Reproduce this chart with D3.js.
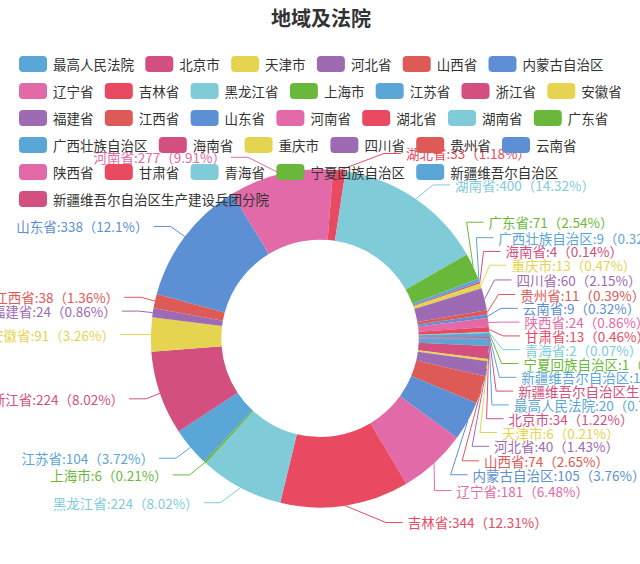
<!DOCTYPE html>
<html><head><meta charset="utf-8">
<script src="https://cdn.jsdelivr.net/npm/d3@7/dist/d3.min.js"></script>
<style>html,body{margin:0;padding:0;background:#fff;}svg{display:block;}</style>
</head><body>
<svg id="chart" width="640" height="564"></svg>
<script>
const chartTitle = "地域及法院";
const categories = ["最高人民法院","北京市","天津市","河北省","山西省","内蒙古自治区","辽宁省","吉林省","黑龙江省","上海市","江苏省","浙江省","安徽省","福建省","江西省","山东省","河南省","湖北省","湖南省","广东省","广西壮族自治区","海南省","重庆市","四川省","贵州省","云南省","陕西省","甘肃省","青海省","宁夏回族自治区","新疆维吾尔自治区","新疆维吾尔自治区生产建设兵团分院"];
const values = [20,34,6,40,74,105,181,344,224,6,104,224,91,24,38,338,277,33,400,71,9,4,13,60,11,9,24,13,2,1,10,4];
const palette = ["#5aa6d7","#d24f80","#e5d44f","#9d6ab4","#dd5a57","#5d8fd4","#e26aa8","#e94a61","#7fcbd8","#6ab83b"];

const W = 640, H = 564;
const cx = W * 0.5, cy = H * 0.6;
const R = Math.min(W, H) / 2 * 0.6, R0 = Math.min(W, H) / 2 * 0.35;
const s = 1.13;
const len1 = 15 * s, len2 = 15 * s, labelH = 13.8;
const FONT = "'Noto Sans CJK SC','Noto Sans',sans-serif";

const data = categories.map((c, i) => ({name: c, value: values[i], idx: i}));
const color = d3.scaleOrdinal().domain(categories).range(palette);

// percent with largest remainder (2 decimals)
function percents(vals, precision) {
  const sum = d3.sum(vals);
  const digits = Math.pow(10, precision);
  const votes = vals.map(v => v / sum * digits * 100);
  const target = digits * 100;
  const seats = votes.map(v => Math.floor(v));
  let cur = d3.sum(seats);
  const rem = votes.map((v, i) => v - seats[i]);
  while (cur < target) {
    let max = -Infinity, id = null;
    for (let i = 0; i < rem.length; i++) if (rem[i] > max) { max = rem[i]; id = i; }
    seats[id]++; rem[id] = 0; cur++;
  }
  return seats.map(x => x / digits);
}
const pct = percents(values, 2);

const svg = d3.select("#chart");
const pie = d3.pie().sort(null).value(d => d.value)
  .startAngle(Math.PI / 2).endAngle(Math.PI / 2 + 2 * Math.PI);
const arcs = pie(data);
const arc = d3.arc().innerRadius(R0).outerRadius(R);

const gPie = svg.append("g").attr("transform", `translate(${cx},${cy})`);
gPie.selectAll("path").data(arcs).join("path")
  .attr("d", arc).attr("fill", d => color(d.data.name));

// label layout (echarts-like)
const layouts = arcs.map(a => {
  const mid = (a.startAngle + a.endAngle) / 2;
  const dx = Math.sin(mid), dy = -Math.cos(mid);
  const x1 = cx + R * dx, y1 = cy + R * dy;
  const x2 = x1 + dx * len1, y2 = y1 + dy * len1;
  const x3 = x2 + (dx < 0 ? -1 : 1) * len2, y3 = y2;
  return {d: a.data, x: x3 + (dx < 0 ? -5 : 5), y: y3, height: labelH, len: len1, len2: len2,
    pts: [[x1, y1], [x2, y2], [x3, y3]], align: dx < 0 ? "end" : "start"};
});

function adjustSingleSide(list, dir) {
  list.sort((a, b) => a.y - b.y);
  function shiftDown(start, end, delta) {
    for (let j = start; j < end; j++) {
      if (list[j].y + delta > H) break;
      list[j].y += delta;
      if (j > start && j + 1 < end && list[j + 1].y > list[j].y + list[j].height) {
        shiftUp(j, delta / 2);
        return;
      }
    }
    shiftUp(end - 1, delta / 2);
  }
  function shiftUp(end, delta) {
    for (let j = end; j >= 0; j--) {
      if (list[j].y - delta < 0) break;
      list[j].y -= delta;
      if (j > 0 && list[j].y > list[j - 1].y + list[j - 1].height) break;
    }
  }
  function changeX(lst, isDown) {
    let last = isDown ? Number.MAX_VALUE : 0;
    for (const it of lst) {
      const deltaY = Math.abs(it.y - cy);
      const RR = R + it.len + it.len2;
      let deltaX = deltaY < R + it.len ? Math.sqrt(RR * RR - deltaY * deltaY) : Math.abs(it.x - cx);
      if (isDown && deltaX >= last) deltaX = last - 10;
      if (!isDown && deltaX <= last) deltaX = last + 10;
      it.x = cx + deltaX * dir;
      last = deltaX;
    }
  }
  let lastY = 0;
  const n = list.length;
  for (let i = 0; i < n; i++) {
    const delta = list[i].y - lastY;
    if (delta < 0) shiftDown(i, n, -delta);
    lastY = list[i].y + list[i].height;
  }
  if (H - lastY < 0) shiftUp(n - 1, lastY - H);
  const up = [], down = [];
  list.forEach(it => (it.y >= cy ? down : up).push(it));
  changeX(up, false);
  changeX(down, true);
}
const leftL = layouts.filter(l => l.x < cx), rightL = layouts.filter(l => l.x >= cx);
adjustSingleSide(rightL, 1);
adjustSingleSide(leftL, -1);
layouts.forEach(l => {
  const p = l.pts;
  const dist = p[1][0] - p[2][0];
  p[2][0] = l.x + (l.x < cx ? 3 : -3);
  p[1][1] = p[2][1] = l.y;
  p[1][0] = p[2][0] + dist;
});

const gLab = svg.append("g");
gLab.selectAll("path").data(layouts).join("path")
  .attr("d", l => d3.line()(l.pts))
  .attr("fill", "none").attr("stroke", l => color(l.d.name)).attr("stroke-width", 1);
gLab.selectAll("text").data(layouts).join("text")
  .attr("x", l => l.x + (l.x < cx ? -2 : 2)).attr("y", l => l.y)
  .attr("text-anchor", l => l.align)
  .attr("dominant-baseline", "central")
  .attr("font-family", FONT).attr("font-size", 13.5)
  .attr("fill", l => color(l.d.name))
  .text(l => `${l.d.name}:${l.d.value}（${pct[l.d.idx]}%）`);

// title
svg.append("text").attr("x", 321).attr("y", 17)
  .attr("text-anchor", "middle").attr("dominant-baseline", "central")
  .attr("font-family", FONT).attr("font-weight", "bold").attr("font-size", 20)
  .attr("fill", "#333").text(chartTitle);

// legend (flow layout)
const gLeg = svg.append("g");
const legLeft = 19, legTop = 64, rowStep = 27, iconW = 28, iconH = 16, textGap = 6, itemGap = 11.3, maxRight = 636;
let lx = legLeft, ly = legTop;
categories.forEach(c => {
  const g = gLeg.append("g");
  const t = g.append("text").attr("x", iconW + textGap).attr("y", 0)
    .attr("dominant-baseline", "central")
    .attr("font-family", FONT).attr("font-size", 13.5).attr("fill", "#333").text(c);
  const tw = t.node().getComputedTextLength();
  const w = iconW + textGap + tw;
  if (lx + w > maxRight && lx > legLeft) { lx = legLeft; ly += rowStep; }
  g.insert("rect", "text").attr("x", 0).attr("y", -iconH / 2).attr("width", iconW).attr("height", iconH)
    .attr("rx", 4).attr("ry", 4).attr("fill", color(c));
  g.attr("transform", `translate(${lx},${ly})`);
  lx += w + itemGap;
});
</script>
</body></html>
